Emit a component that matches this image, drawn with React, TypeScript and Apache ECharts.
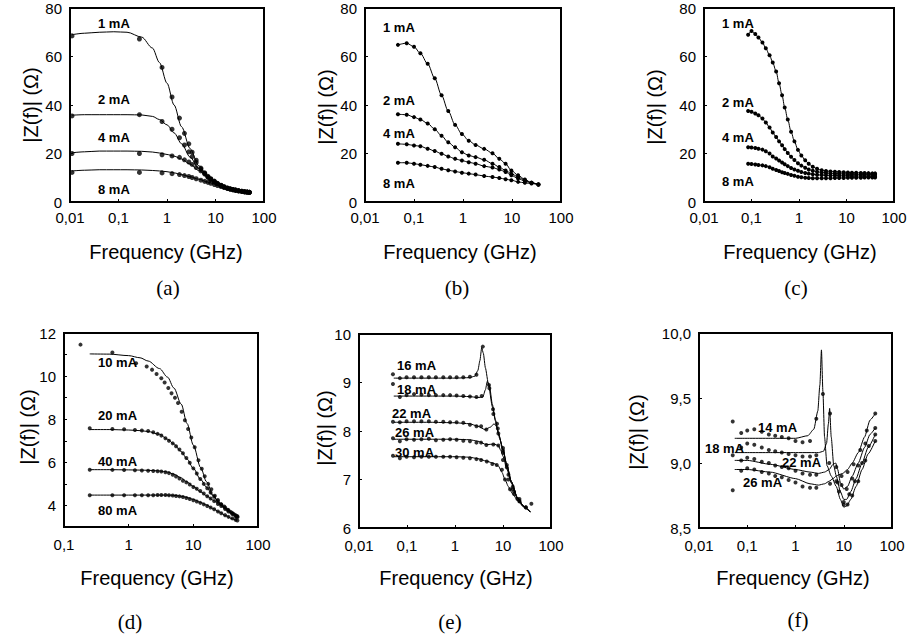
import React, { useEffect, useRef } from "react";
import * as echarts from "echarts";

// ---------- Panel (a) ----------
const fitA_f = [0.011, 0.02, 0.04, 0.08, 0.15, 0.3, 0.5, 0.7, 1, 1.4, 2, 3, 4.5, 7, 10, 15, 25, 50];
const fitA_1 = [69, 69.6, 70, 70.2, 70, 68, 63.5, 57.5, 49, 40, 31, 22, 15, 10.5, 8.2, 6.3, 5, 4.1];
const fitA_2 = [35.8, 36, 36, 36, 36, 35.9, 35.3, 34, 31.8, 28.5, 24, 18.5, 13.8, 10, 8, 6.3, 5, 4.1];
const fitA_4 = [20.3, 20.7, 21, 21, 21, 20.9, 20.6, 20.2, 19.6, 18.9, 17.7, 15.6, 13, 10.2, 8.1, 6.4, 5, 4.1];
const fitA_8 = [12.8, 13.1, 13.3, 13.3, 13.3, 13.2, 13, 12.8, 12.5, 12, 11.3, 10.4, 9.4, 8.2, 7.3, 6.2, 5, 4.1];
const dotA_f = [0.011, 0.27, 0.79, 1.27, 1.81, 2.29, 2.82, 3.3, 4, 5, 6, 7, 8, 9.5, 11, 13, 15, 17.5, 20, 23, 26, 30, 35, 40, 45, 50];
const dotA_1 = [68.5, 67.2, 55.5, 43.3, 34.6, 28.3, 24, 20.5, 17.2, 14, 12, 10.6, 9.6, 8.6, 7.7, 6.9, 6.3, 5.8, 5.4, 5.1, 4.9, 4.6, 4.4, 4.2, 4.1, 4.0];
const dotA_2 = [35.5, 36, 33.2, 30, 26.5, 23.5, 20.7, 18.7, 16.3, 13.6, 11.8, 10.3, 9.4, 8.4, 7.6, 6.8, 6.2, 5.7, 5.4, 5.1, 4.9, 4.6, 4.4, 4.2, 4.1, 4.0];
const dotA_4 = [20, 20, 19.5, 19, 18.4, 17.4, 16.5, 15.5, 14.2, 12.8, 11.5, 10.2, 9.3, 8.3, 7.5, 6.8, 6.2, 5.7, 5.4, 5.1, 4.9, 4.6, 4.4, 4.2, 4.1, 4.0];
const dotA_8 = [12.2, 12.2, 12, 11.7, 11.3, 10.9, 10.5, 10.1, 9.6, 9.0, 8.5, 8.1, 7.7, 7.2, 6.8, 6.4, 6.0, 5.6, 5.3, 5.0, 4.8, 4.6, 4.4, 4.2, 4.1, 4.0];

// ---------- Panel (b) ----------
const fB = [0.047, 0.071, 0.1, 0.135, 0.19, 0.265, 0.365, 0.5, 0.69, 0.95, 1.31, 1.81, 2.7, 4, 5.5, 7.4, 9.7, 13.3, 18.3, 25, 34.6];
const b1 = [64.8, 65.5, 64, 61.3, 57, 51, 44, 37.5, 31.8, 28, 25.3, 23.5, 21.9, 20.1, 17.8, 15.8, 13, 11, 9.3, 7.9, 7.2];
const b2 = [36.2, 36, 35, 34, 32.4, 30, 27.3, 24.6, 22.6, 20.5, 19.2, 18.5, 17.4, 15.8, 14.4, 13, 11.7, 10.3, 9, 7.9, 7.2];
const b4 = [24, 23.8, 23.3, 23, 22, 21, 19.9, 18.8, 17.8, 17.1, 16.4, 15.8, 14.8, 14.2, 13.4, 12.4, 11, 9.7, 8.6, 7.9, 7.2];
const b8 = [16.2, 16.2, 15.8, 15.4, 14.9, 14.4, 13.7, 13.1, 12.6, 12.1, 11.7, 11.3, 10.7, 10.3, 9.9, 9.4, 9, 8.3, 7.9, 7.6, 7.2];

// ---------- Panel (c) ----------
const fC = [0.085, 0.1, 0.12, 0.14, 0.17, 0.2, 0.24, 0.28, 0.33, 0.38, 0.44, 0.5, 0.58, 0.68, 0.8, 0.95, 1.12, 1.35, 1.6, 1.95, 2.4, 3, 3.7, 4.6, 5.7, 7, 8.7, 10.7, 13, 16, 20, 24, 29, 35, 40];
const c1 = [69, 70.5, 69.3, 67.8, 65.8, 63.4, 60.5, 57.5, 53.8, 49, 44, 39, 34, 29, 25, 21.5, 19.2, 17.2, 15.8, 14.5, 13.7, 13.1, 12.8, 12.6, 12.5, 12.4, 12.3, 12.2, 12.1, 12.1, 12, 12, 11.9, 11.8, 11.8];
const c2 = [37.5, 37.2, 36.5, 35.8, 34.4, 32.8, 30.7, 28.7, 26.8, 25, 23.4, 21.8, 20.2, 18.7, 17.3, 16, 15, 14.1, 13.4, 12.9, 12.5, 12.2, 12, 11.8, 11.7, 11.6, 11.6, 11.5, 11.5, 11.4, 11.4, 11.4, 11.3, 11.3, 11.3];
const c4 = [22.6, 22.5, 22.3, 22, 21.6, 20.9, 20, 18.8, 17.9, 17.1, 16.3, 15.6, 14.8, 14, 13.4, 12.9, 12.4, 12, 11.7, 11.4, 11.2, 11.1, 11, 10.9, 10.9, 10.8, 10.8, 10.8, 10.7, 10.7, 10.7, 10.7, 10.6, 10.6, 10.6];
const c8 = [15.8, 15.7, 15.5, 15.3, 15.1, 14.8, 14.3, 13.7, 13.2, 12.8, 12.3, 12, 11.6, 11.1, 10.8, 10.4, 10.2, 10, 9.9, 9.8, 9.8, 9.8, 9.8, 9.8, 9.9, 9.9, 9.9, 10, 10, 10, 10, 10.1, 10.1, 10.1, 10.1];

// ---------- Panel (d) ----------
const fitD_f = [0.25, 0.5, 1, 1.5, 2, 3, 4, 5, 6.5, 8, 10, 13, 16, 20, 25, 32, 40, 47];
const fitD_10 = [11.03, 11.02, 10.95, 10.85, 10.7, 10.35, 9.95, 9.45, 8.7, 7.8, 6.8, 5.75, 5.1, 4.5, 4.1, 3.85, 3.65, 3.5];
const fitD_20 = [7.52, 7.52, 7.5, 7.47, 7.43, 7.3, 7.07, 6.85, 6.5, 6.15, 5.72, 5.2, 4.85, 4.45, 4.15, 3.88, 3.66, 3.52];
const fitD_40 = [5.66, 5.66, 5.65, 5.64, 5.63, 5.6, 5.55, 5.45, 5.28, 5.09, 4.88, 4.63, 4.45, 4.25, 4.05, 3.82, 3.62, 3.5];
const fitD_80 = [4.48, 4.48, 4.48, 4.48, 4.48, 4.48, 4.48, 4.47, 4.43, 4.37, 4.28, 4.14, 4.02, 3.86, 3.7, 3.52, 3.38, 3.3];
const dotD10_f = [0.18, 0.56, 1.3, 1.9, 2.3, 2.7, 3.2, 3.6, 4.1, 4.6, 5.2, 5.8, 6.6, 7.4, 8.3, 9.3, 10.5, 12, 13.5, 15, 17, 19, 21.5, 24, 27, 30, 34, 38, 42, 47];
const dotD_10 = [11.46, 11.1, 10.6, 10.45, 10.3, 10.1, 9.9, 9.7, 9.45, 9.2, 9.0, 8.75, 8.35, 7.95, 7.55, 7.15, 6.7, 6.1, 5.7, 5.35, 5.0, 4.75, 4.45, 4.25, 4.05, 3.95, 3.8, 3.7, 3.6, 3.5];
const dotD_f = [0.25, 0.56, 0.85, 1.25, 1.6, 2, 2.4, 2.8, 3.2, 3.7, 4.2, 4.8, 5.4, 6.1, 6.9, 7.8, 8.8, 10, 11.3, 12.8, 14.5, 16.4, 18.5, 21, 24, 27, 31, 35, 40, 45, 48];
const dotD_20 = [7.58, 7.55, 7.53, 7.5, 7.48, 7.45, 7.4, 7.32, 7.24, 7.12, 7.0, 6.88, 6.75, 6.6, 6.42, 6.2, 5.98, 5.72, 5.48, 5.23, 5.0, 4.8, 4.6, 4.4, 4.2, 4.05, 3.9, 3.78, 3.65, 3.55, 3.5];
const dotD_40 = [5.66, 5.65, 5.64, 5.63, 5.62, 5.61, 5.6, 5.59, 5.57, 5.54, 5.5, 5.42, 5.34, 5.25, 5.15, 5.07, 4.97, 4.86, 4.77, 4.67, 4.55, 4.43, 4.32, 4.2, 4.07, 3.97, 3.84, 3.72, 3.6, 3.5, 3.45];
const dotD_80 = [4.47, 4.47, 4.47, 4.47, 4.47, 4.47, 4.47, 4.48, 4.48, 4.48, 4.47, 4.46, 4.44, 4.42, 4.39, 4.35, 4.3, 4.24, 4.18, 4.12, 4.05, 3.97, 3.9, 3.82, 3.72, 3.64, 3.55, 3.47, 3.4, 3.33, 3.3];

// ---------- Panel (e) ----------
const fitE16_f = [0.053, 0.1, 0.3, 1, 2, 2.6, 3, 3.3, 3.6, 3.9, 4.3, 5, 6, 7, 8, 10, 12, 15, 20, 27, 37];
const fitE_16 = [9.09, 9.09, 9.09, 9.09, 9.1, 9.13, 9.25, 9.45, 9.72, 9.6, 9.3, 8.95, 8.5, 8.2, 7.95, 7.62, 7.3, 6.95, 6.62, 6.45, 6.33];
const fitE18_f = [0.053, 0.3, 1, 2, 3, 3.8, 4.3, 4.7, 5.2, 6, 7, 8, 10, 12, 15, 20, 27, 37];
const fitE_18 = [8.72, 8.72, 8.72, 8.71, 8.69, 8.7, 8.85, 9.02, 8.95, 8.55, 8.22, 7.96, 7.62, 7.3, 6.95, 6.62, 6.45, 6.33];
const fitE22_f = [0.053, 0.3, 1, 2, 3, 4.2, 5.5, 6.5, 7.5, 8.5, 10, 12, 15, 20, 27, 37];
const fitE_22 = [8.18, 8.18, 8.17, 8.15, 8.1, 8.03, 8.08, 8.15, 8.08, 7.85, 7.6, 7.28, 6.95, 6.62, 6.45, 6.33];
const fitE26_f = [0.053, 0.3, 1, 2, 3, 4.5, 6.5, 8, 9, 10, 12, 15, 20, 27, 37];
const fitE_26 = [7.83, 7.83, 7.83, 7.82, 7.79, 7.72, 7.73, 7.7, 7.6, 7.48, 7.22, 6.92, 6.6, 6.44, 6.33];
const fitE30_f = [0.053, 0.3, 1, 2, 3, 4.5, 6.5, 8, 9.5, 11, 13, 16, 20, 27, 37];
const fitE_30 = [7.47, 7.47, 7.47, 7.46, 7.43, 7.38, 7.33, 7.28, 7.15, 7.0, 6.85, 6.7, 6.57, 6.43, 6.33];
const dotE16_f = [0.051, 0.071, 0.098, 0.14, 0.2, 0.285, 0.4, 0.57, 0.79, 1.08, 1.49, 2.05, 2.8, 3.8, 5.1, 6.3, 8, 10, 13, 17, 22, 30, 39];
const dotE_16 = [9.17, 9.09, 9.11, 9.11, 9.11, 9.11, 9.11, 9.11, 9.11, 9.11, 9.11, 9.12, 9.16, 9.74, 8.95, 8.35, 7.95, 7.65, 7.1, 6.75, 6.55, 6.43, 6.5];
const dotE18_f = [0.051, 0.071, 0.098, 0.14, 0.2, 0.285, 0.4, 0.57, 0.79, 1.08, 1.49, 2.05, 2.8, 3.6, 5.2, 6.2, 7.8, 10, 12, 16, 22, 30];
const dotE_18 = [8.97, 8.7, 8.74, 8.76, 8.75, 8.74, 8.74, 8.74, 8.74, 8.73, 8.72, 8.71, 8.7, 8.72, 8.88, 8.45, 8.05, 7.6, 7.25, 6.85, 6.6, 6.42];
const dotE22_f = [0.051, 0.071, 0.098, 0.14, 0.2, 0.285, 0.4, 0.57, 0.79, 1.08, 1.49, 2.05, 2.8, 3.5, 4.5, 7.5, 10, 12, 16, 22];
const dotE_22 = [8.19, 8.18, 8.2, 8.2, 8.2, 8.2, 8.19, 8.19, 8.18, 8.18, 8.17, 8.13, 8.1, 8.1, 8.03, 8.15, 7.55, 7.3, 6.8, 6.55];
const dotE26_f = [0.051, 0.071, 0.098, 0.14, 0.2, 0.285, 0.4, 0.57, 0.79, 1.08, 1.49, 2.05, 2.8, 3.5, 4.5, 6.3, 8, 10, 13, 17];
const dotE_26 = [7.85, 7.79, 7.83, 7.82, 7.83, 7.84, 7.81, 7.82, 7.83, 7.82, 7.8, 7.79, 7.76, 7.76, 7.71, 7.72, 7.7, 7.4, 7.0, 6.7];
const dotE30_f = [0.051, 0.071, 0.098, 0.14, 0.2, 0.285, 0.4, 0.57, 0.79, 1.08, 1.49, 2.05, 2.8, 3.5, 4.6, 6, 7.4, 9.5, 11, 14, 20];
const dotE_30 = [7.49, 7.44, 7.47, 7.46, 7.47, 7.47, 7.47, 7.47, 7.47, 7.46, 7.45, 7.44, 7.42, 7.4, 7.37, 7.32, 7.3, 7.2, 7.0, 6.8, 6.6];

// ---------- Panel (f) ----------
const fitF14_f = [0.055, 0.1, 0.3, 1, 1.8, 2.4, 2.9, 3.2, 3.45, 3.7, 4.0, 4.5, 5.5, 7, 8.5, 10, 11.5, 14, 18, 24, 32, 45];
const fitF_14 = [9.19, 9.19, 9.19, 9.19, 9.21, 9.26, 9.4, 9.6, 9.87, 9.55, 9.2, 8.98, 8.9, 8.82, 8.72, 8.66, 8.67, 8.72, 8.82, 8.95, 9.07, 9.17];
const fitF18_f = [0.055, 0.1, 0.3, 1, 2, 3, 3.8, 4.4, 4.8, 5.1, 5.5, 6.2, 7, 8.5, 10, 11.5, 14, 18, 24, 32, 45];
const fitF_18 = [9.08, 9.08, 9.08, 9.08, 9.08, 9.08, 9.09, 9.15, 9.3, 9.42, 9.2, 8.98, 8.9, 8.78, 8.72, 8.72, 8.78, 8.88, 9.0, 9.12, 9.22];
const fitF22_f = [0.055, 0.1, 0.3, 1, 2, 3, 4, 5, 6, 6.8, 7.5, 8.5, 10, 12, 15, 20, 27, 35, 45];
const fitF_22 = [9.02, 9.02, 8.99, 8.95, 8.93, 8.92, 8.93, 8.95, 8.99, 9.0, 8.95, 8.85, 8.8, 8.82, 8.9, 9.0, 9.12, 9.22, 9.27];
const fitF26_f = [0.055, 0.1, 0.3, 1, 2, 3, 4, 5, 6, 7, 8, 9.5, 12, 15, 20, 27, 35, 45];
const fitF_26 = [8.95, 8.95, 8.93, 8.88, 8.84, 8.83, 8.84, 8.86, 8.88, 8.9, 8.91, 8.92, 8.95, 9.0, 9.08, 9.2, 9.33, 9.38];
const dotF14_f = [0.05, 0.075, 0.1, 0.14, 0.2, 0.28, 0.38, 0.52, 0.72, 1.0, 1.4, 2.0, 2.7, 3.7, 8, 10, 12, 15, 20, 28, 45];
const dotF_14 = [9.32, 9.23, 9.25, 9.26, 9.24, 9.22, 9.21, 9.2, 9.19, 9.17, 9.16, 9.17, 9.34, 9.53, 8.78, 8.68, 8.68, 8.75, 8.86, 9.02, 9.17];
const dotF18_f = [0.05, 0.075, 0.1, 0.14, 0.2, 0.28, 0.38, 0.52, 0.72, 1.0, 1.4, 2.0, 2.7, 5.2, 7.5, 10, 13, 17, 24, 33, 45];
const dotF_18 = [9.06, 9.12, 9.15, 9.14, 9.12, 9.1, 9.09, 9.08, 9.07, 9.06, 9.05, 9.05, 9.06, 9.38, 8.85, 8.7, 8.76, 8.86, 9.0, 9.13, 9.22];
const dotF22_f = [0.075, 0.1, 0.14, 0.2, 0.28, 0.38, 0.52, 0.72, 1.0, 1.4, 2.0, 2.7, 5, 7, 9, 11.5, 15, 20, 28, 45];
const dotF_22 = [9.02, 9.04, 9.03, 9.01, 9.0, 8.98, 8.97, 8.96, 8.94, 8.92, 8.91, 8.91, 9.0, 8.97, 8.83, 8.8, 8.88, 8.98, 9.15, 9.27];
const dotF26_f = [0.05, 0.075, 0.1, 0.14, 0.2, 0.28, 0.38, 0.52, 0.72, 1.0, 1.4, 2.0, 2.7, 5.2, 7, 9, 12, 16, 22, 30, 45];
const dotF_26 = [8.79, 8.94, 8.96, 8.95, 8.93, 8.92, 8.9, 8.89, 8.87, 8.85, 8.82, 8.81, 8.81, 8.84, 8.86, 8.9, 8.93, 8.99, 9.1, 9.25, 9.38];

// ---------- Texts ----------
const curveLabelsA = ["1 mA", "2 mA", "4 mA", "8 mA"];
const curveLabelsD = ["10 mA", "20 mA", "40 mA", "80 mA"];
const curveLabelsE = ["16 mA", "18 mA", "22 mA", "26 mA", "30 mA"];
const curveLabelsF = ["14 mA", "18 mA", "22 mA", "26 mA"];
const captions = ["(a)", "(b)", "(c)", "(d)", "(e)", "(f)"];
const xTitle = "Frequency (GHz)";
const yTitle = "|Z(f)| (\u03A9)";

// ---------- Layout (pixels) ----------
const GRIDS = [
  { l: 70, t: 8, w: 194, h: 194 },
  { l: 365, t: 8, w: 196, h: 194 },
  { l: 704, t: 8, w: 190, h: 194 },
  { l: 64, t: 333, w: 194, h: 194 },
  { l: 359, t: 334, w: 192, h: 194 },
  { l: 699, t: 333, w: 193, h: 195 },
];
const Y_TITLE_POS = [[31, 105], [326, 107], [655, 107], [28, 427], [325, 428], [637, 432]];
const X_TITLE_POS = [[166, 252], [460, 252], [800, 252], [157, 578], [456, 578], [793, 578]];
const CAPTION_POS = [[168, 288], [457, 288], [796, 288], [130, 622], [450, 622], [798, 620]];
const LABEL_POS_A = [[98, 23], [98, 99], [98, 137], [98, 189]];
const LABEL_POS_B = [[383, 27], [383, 100], [383, 133], [383, 183]];
const LABEL_POS_C = [[722, 23], [722, 102], [722, 137], [722, 181]];
const LABEL_POS_D = [[98, 362], [98, 415], [98, 461], [98, 510]];
const LABEL_POS_E = [[397, 365], [397, 389], [392, 413], [395, 432], [395, 452]];
const LABEL_POS_F = [[758, 427], [705, 448], [782, 462], [743, 482]];

const SANS = '"Liberation Sans", Arial, Helvetica, sans-serif';
const SERIF = '"Liberation Serif", "Times New Roman", serif';

const zip = (xs: number[], ys: number[]) => xs.map((x, i) => [x, ys[i]]);

function fmtLog(v: number) {
  return String(parseFloat(Number(v).toPrecision(6))).replace(".", ",");
}

function text(x: number, y: number, t: string, font: string, align = "left", rotation = 0) {
  return {
    type: "text",
    x,
    y,
    rotation,
    silent: true,
    style: {
      text: t,
      font,
      fill: "#000",
      align,
      verticalAlign: "middle",
      textAlign: align,
      textVerticalAlign: "middle",
    },
  };
}

function dots(i: number, data: number[][], size = 4) {
  return {
    type: "scatter",
    xAxisIndex: i,
    yAxisIndex: i,
    data,
    symbol: "circle",
    symbolSize: size,
    itemStyle: { color: "#000" },
    silent: true,
    z: 3,
  };
}

function fit(i: number, data: number[][], withSymbols = false, smooth = 0.3) {
  return {
    type: "line",
    xAxisIndex: i,
    yAxisIndex: i,
    data,
    showSymbol: withSymbols,
    symbol: "circle",
    symbolSize: 4,
    smooth,
    smoothMonotone: "x",
    lineStyle: { color: "#000", width: 1 },
    itemStyle: { color: "#000" },
    silent: true,
    z: 2,
  };
}

function buildOption() {
  const yCfg = [
    { min: 0, max: 80, interval: 20, fmt: (v: number) => String(v) },
    { min: 0, max: 80, interval: 20, fmt: (v: number) => String(v) },
    { min: 0, max: 80, interval: 20, fmt: (v: number) => String(v) },
    { min: 3, max: 12, interval: 1, fmt: (v: number) => (Math.round(v) % 2 === 0 ? String(Math.round(v)) : "") },
    { min: 6, max: 10, interval: 1, fmt: (v: number) => String(v) },
    { min: 8.5, max: 10, interval: 0.5, fmt: (v: number) => v.toFixed(1).replace(".", ",") },
  ];
  const xMin = [0.01, 0.01, 0.01, 0.1, 0.01, 0.01];

  const grid = GRIDS.map((g) => ({
    left: g.l,
    top: g.t,
    width: g.w,
    height: g.h,
    show: true,
    borderColor: "#000",
    borderWidth: 2,
    backgroundColor: "transparent",
    containLabel: false,
    outerBoundsMode: "none",
  }));

  const xAxis = GRIDS.map((_, i) => ({
    type: "log",
    logBase: 10,
    gridIndex: i,
    min: xMin[i],
    max: 100,
    axisLine: { show: true, lineStyle: { color: "#000", width: 2 } },
    axisTick: { show: true, inside: true, length: 3, lineStyle: { color: "#000", width: 1 } },
    minorTick: { show: false },
    splitLine: { show: false },
    axisLabel: {
      color: "#000",
      fontSize: 15,
      fontFamily: SANS,
      margin: i < 3 ? 8 : 10,
      showMinLabel: true,
      showMaxLabel: true,
      formatter: (v: number) => fmtLog(v),
    },
  }));

  const yAxis = GRIDS.map((_, i) => ({
    type: "value",
    gridIndex: i,
    min: yCfg[i].min,
    max: yCfg[i].max,
    interval: yCfg[i].interval,
    axisLine: { show: true, lineStyle: { color: "#000", width: 2 } },
    axisTick: { show: true, inside: true, length: 3, lineStyle: { color: "#000", width: 1 } },
    splitLine: { show: false },
    axisLabel: {
      color: "#000",
      fontSize: 15,
      fontFamily: SANS,
      margin: 8,
      showMinLabel: true,
      showMaxLabel: true,
      formatter: yCfg[i].fmt,
    },
  }));

  const series: any[] = [
    // (a)
    fit(0, zip(fitA_f, fitA_1)),
    fit(0, zip(fitA_f, fitA_2)),
    fit(0, zip(fitA_f, fitA_4)),
    fit(0, zip(fitA_f, fitA_8)),
    dots(0, zip(dotA_f, dotA_1), 5),
    dots(0, zip(dotA_f, dotA_2), 5),
    dots(0, zip(dotA_f, dotA_4), 5),
    dots(0, zip(dotA_f, dotA_8), 5),
    // (b)
    fit(1, zip(fB, b1), true),
    fit(1, zip(fB, b2), true),
    fit(1, zip(fB, b4), true),
    fit(1, zip(fB, b8), true),
    // (c)
    fit(2, zip(fC, c1), true),
    fit(2, zip(fC, c2), true),
    fit(2, zip(fC, c4), true),
    fit(2, zip(fC, c8), true),
    // (d)
    fit(3, zip(fitD_f, fitD_10)),
    fit(3, zip(fitD_f, fitD_20)),
    fit(3, zip(fitD_f, fitD_40)),
    fit(3, zip(fitD_f, fitD_80)),
    dots(3, zip(dotD10_f, dotD_10)),
    dots(3, zip(dotD_f, dotD_20)),
    dots(3, zip(dotD_f, dotD_40)),
    dots(3, zip(dotD_f, dotD_80)),
    // (e)
    fit(4, zip(fitE16_f, fitE_16), false, 0.2),
    fit(4, zip(fitE18_f, fitE_18), false, 0.2),
    fit(4, zip(fitE22_f, fitE_22), false, 0.2),
    fit(4, zip(fitE26_f, fitE_26), false, 0.2),
    fit(4, zip(fitE30_f, fitE_30), false, 0.2),
    dots(4, zip(dotE16_f, dotE_16)),
    dots(4, zip(dotE18_f, dotE_18)),
    dots(4, zip(dotE22_f, dotE_22)),
    dots(4, zip(dotE26_f, dotE_26)),
    dots(4, zip(dotE30_f, dotE_30)),
    // (f)
    fit(5, zip(fitF14_f, fitF_14), false, 0.2),
    fit(5, zip(fitF18_f, fitF_18), false, 0.2),
    fit(5, zip(fitF22_f, fitF_22), false, 0.2),
    fit(5, zip(fitF26_f, fitF_26), false, 0.2),
    dots(5, zip(dotF14_f, dotF_14)),
    dots(5, zip(dotF18_f, dotF_18)),
    dots(5, zip(dotF22_f, dotF_22)),
    dots(5, zip(dotF26_f, dotF_26)),
  ];

  const titleFont = `20px ${SANS}`;
  const labelFont = `bold 13px ${SANS}`;
  const capFont = `21px ${SERIF}`;
  const graphics: any[] = [];
  for (let i = 0; i < 6; i++) {
    graphics.push(text(Y_TITLE_POS[i][0], Y_TITLE_POS[i][1], yTitle, titleFont, "center", Math.PI / 2));
    graphics.push(text(X_TITLE_POS[i][0], X_TITLE_POS[i][1], xTitle, titleFont, "center"));
    graphics.push(text(CAPTION_POS[i][0], CAPTION_POS[i][1], captions[i], capFont, "center"));
  }
  const addLabels = (names: string[], pos: number[][]) =>
    names.forEach((n, k) => graphics.push(text(pos[k][0], pos[k][1], n, labelFont, "left")));
  addLabels(curveLabelsA, LABEL_POS_A);
  addLabels(curveLabelsA, LABEL_POS_B);
  addLabels(curveLabelsA, LABEL_POS_C);
  addLabels(curveLabelsD, LABEL_POS_D);
  addLabels(curveLabelsE, LABEL_POS_E);
  addLabels(curveLabelsF, LABEL_POS_F);

  return {
    animation: false,
    backgroundColor: "#fff",
    grid,
    xAxis,
    yAxis,
    series,
    graphic: { elements: graphics },
  };
}

export default function App() {
  const ref = useRef<HTMLDivElement>(null);
  useEffect(() => {
    if (!ref.current) return;
    const chart = echarts.init(ref.current, null, { renderer: "svg" });
    chart.setOption(buildOption() as any);
    return () => chart.dispose();
  }, []);
  return (
    <div
      ref={ref}
      style={{ position: "absolute", left: 0, top: 0, width: 907, height: 635, background: "#fff" }}
    />
  );
}
